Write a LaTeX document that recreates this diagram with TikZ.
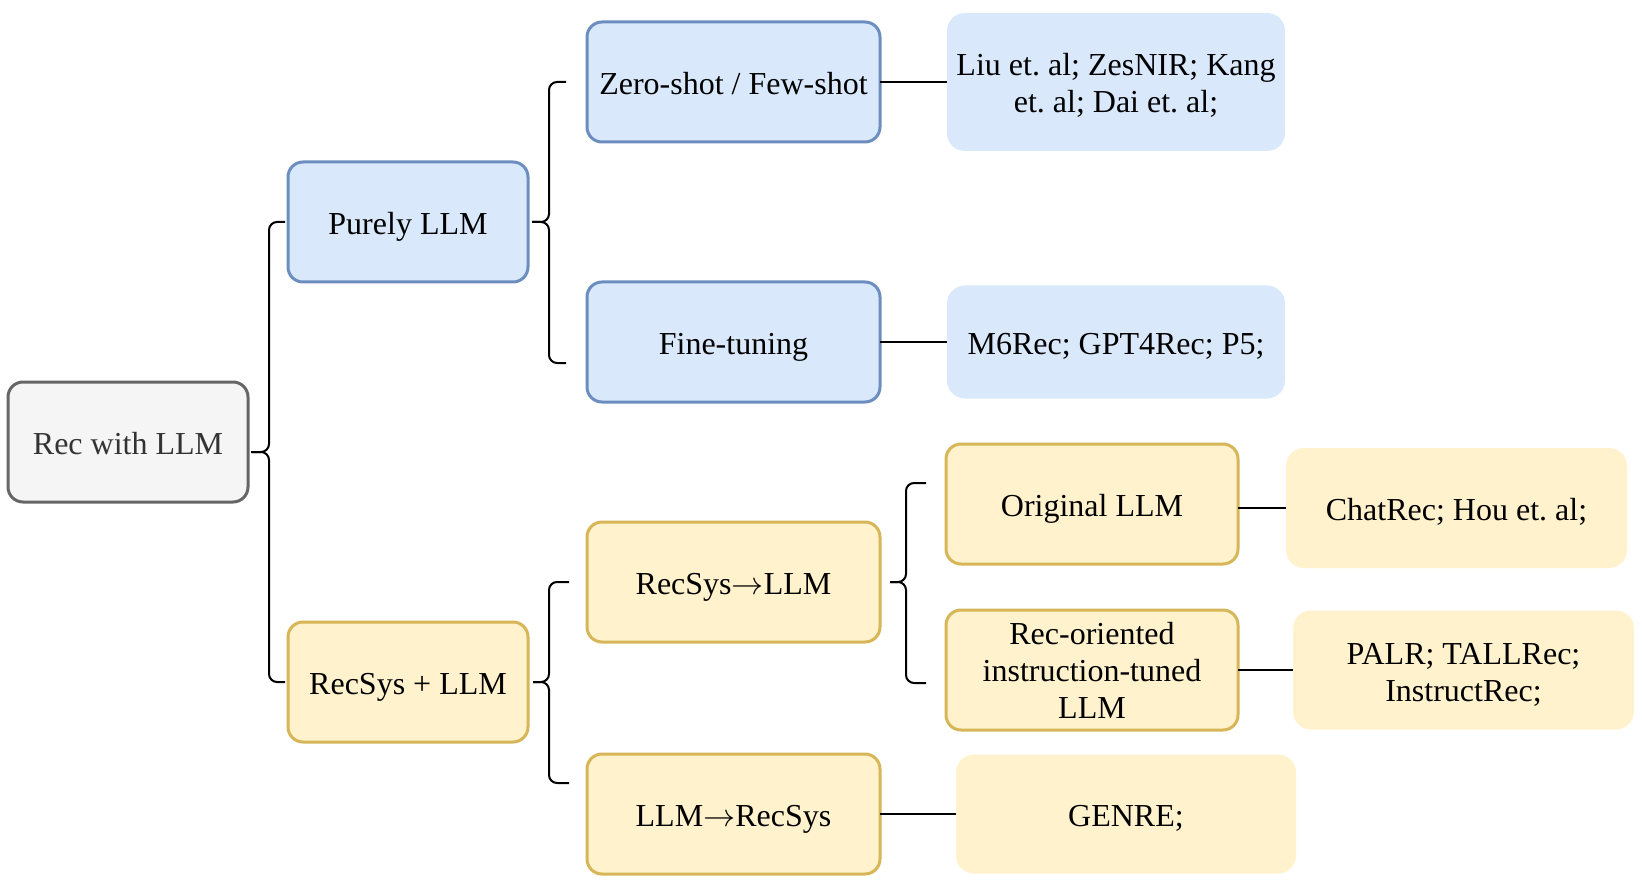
\documentclass[tikz,border=0pt]{standalone}
\usepackage{fontspec}
\setmainfont{Liberation Serif}
\usetikzlibrary{positioning}

\definecolor{blueFill}{HTML}{DAE8FC}
\definecolor{blueLine}{HTML}{6C8EBF}
\definecolor{yellowFill}{HTML}{FFF2CC}
\definecolor{yellowLine}{HTML}{D6B656}
\definecolor{grayFill}{HTML}{F5F5F5}
\definecolor{grayLine}{HTML}{666666}
\definecolor{rootText}{HTML}{333333}

\newcommand{\toarrow}{\scalebox{1.29}{$\rightarrow$}}

\begin{document}
\begin{tikzpicture}[x=1pt,y=1pt,
  every node/.style={font=\fontsize{32}{37}\selectfont\frenchspacing,align=center,inner sep=0pt,outer sep=0pt},
  one line/.style={text height=25pt,text depth=0pt},
  cat node/.style={rounded corners=15pt,line width=3pt,minimum width=240pt,minimum height=120pt},
  mid node/.style={rounded corners=15pt,line width=3pt,minimum width=293pt,minimum height=120pt},
  blue node/.style={draw=blueLine,fill=blueFill},
  yellow node/.style={draw=yellowLine,fill=yellowFill},
  leaf node/.style={rounded corners=18pt,minimum width=340pt,minimum height=120pt},
  link line/.style={line width=2pt},
  bracket line/.style={line width=2pt,rounded corners=8pt}]

\fill[white] (0,0) rectangle (1642,-896);

\node[cat node,one line,draw=grayLine,fill=grayFill,text=rootText] (rec) at (128,-442) {Rec with LLM};
\node[cat node,one line,blue node] (purely) [above right=100pt and 40pt of rec] {Purely LLM};
\node[cat node,one line,yellow node] (hybrid) [below right=120pt and 40pt of rec] {RecSys + LLM};

\node[mid node,one line,blue node] (zeroshot) [above right=20pt and 59pt of purely] {Zero-shot / Few-shot};
\node[mid node,one line,blue node] (finetune) [below=140pt of zeroshot] {Fine-tuning};
\node[mid node,one line,yellow node] (sys2llm) [right=59pt of hybrid,yshift=100pt] {RecSys\toarrow LLM};
\node[mid node,one line,yellow node] (llm2sys) [below=112pt of sys2llm] {LLM\toarrow RecSys};
\node[mid node,one line,yellow node,minimum width=292pt] (original) [right=66pt of sys2llm,yshift=78pt] {Original LLM};
\node[mid node,yellow node,minimum width=292pt] (instruct) [below=46pt of original] {Rec-oriented\\instruction-tuned\\LLM};

\node[leaf node,fill=blueFill,minimum width=338pt,minimum height=138pt] (liu) [right=67pt of zeroshot] {\rule{0pt}{29pt}Liu et. al; ZesNIR; Kang\\et. al; Dai et. al;};
\node[leaf node,one line,fill=blueFill,minimum width=338pt,minimum height=113pt] (m6) [right=67pt of finetune] {M6Rec; GPT4Rec; P5;};
\node[leaf node,one line,fill=yellowFill,minimum width=341pt] (chat) [right=48pt of original,yshift=-4pt] {ChatRec; Hou et. al;};
\node[leaf node,fill=yellowFill,minimum width=341pt,minimum height=119pt] (palr) [right=55pt of instruct] {\rule{0pt}{31pt}PALR; TALLRec;\\InstructRec;};
\node[leaf node,one line,fill=yellowFill,minimum height=119pt] (genre) [right=76pt of llm2sys] {GENRE;};

\draw[link line] (zeroshot) -- (liu);
\draw[link line] (finetune) -- (m6);
\draw[link line] (original.east |- chat.west) -- (chat.west);
\draw[link line] (instruct) -- (palr);
\draw[link line] (llm2sys) -- (genre);

\draw[bracket line] ([xshift=3pt,yshift=-10pt]rec.east) -- ++(18pt,0) |- ([xshift=-3pt]purely.west);
\draw[bracket line] ([xshift=3pt,yshift=-10pt]rec.east) -- ++(18pt,0) |- ([xshift=-3pt]hybrid.west);
\draw[bracket line] ([xshift=4pt]purely.east) -- ++(17pt,0) |- ([xshift=-21pt]zeroshot.west);
\draw[bracket line] ([xshift=4pt]purely.east) -- ++(17pt,0) |- ([xshift=-21pt,yshift=-21pt]finetune.west);
\draw[bracket line] ([xshift=5pt]hybrid.east) -- ++(16pt,0) |- ([xshift=-18pt]sys2llm.west);
\draw[bracket line] ([xshift=5pt]hybrid.east) -- ++(16pt,0) |- ([xshift=-18pt,yshift=31pt]llm2sys.west);
\draw[bracket line] ([xshift=10pt]sys2llm.east) -- ++(16pt,0) |- ([xshift=-20pt,yshift=21pt]original.west);
\draw[bracket line] ([xshift=10pt]sys2llm.east) -- ++(16pt,0) |- ([xshift=-20pt,yshift=-13pt]instruct.west);
\end{tikzpicture}
\end{document}
